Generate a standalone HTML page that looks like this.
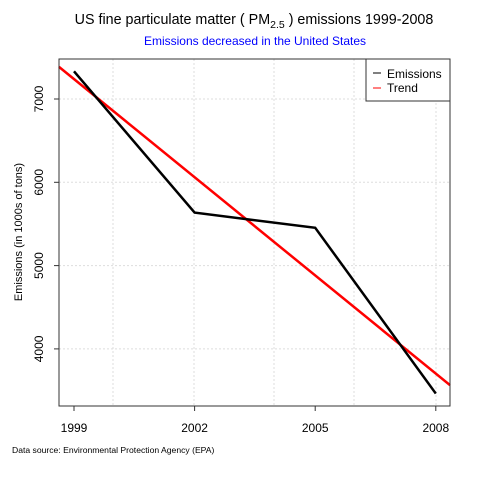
<!DOCTYPE html>
<html><head><meta charset="utf-8"><style>
body{margin:0;background:#fff;}
svg{display:block;font-family:"Liberation Sans",Arial,sans-serif;}
</style></head><body>
<svg id="c" width="480" height="480" viewBox="0 0 480 480">
<text x="254" y="24" font-size="14.3" text-anchor="middle">US fine particulate matter ( PM<tspan font-size="10.5" dy="4">2.5</tspan><tspan dy="-4"> ) emissions 1999-2008</tspan></text>
<text x="255" y="45" font-size="12" fill="#0000ff" text-anchor="middle">Emissions decreased in the United States</text>
<g id="grid"></g>
<g id="marks"></g>
<rect x="59" y="59" width="391" height="347" fill="none" stroke="#333" stroke-width="1"/>
<g id="axes"></g>
<text transform="translate(22,232) rotate(-90)" font-size="11" text-anchor="middle">Emissions (in 1000s of tons)</text>
<text x="12" y="453" font-size="8.6">Data source: Environmental Protection Agency (EPA)</text>
<g>
<rect x="366" y="59" width="84" height="42" fill="#fff" stroke="#333"/>
<line x1="373" y1="73" x2="381" y2="73" stroke="#000"/>
<text x="387" y="78" font-size="12">Emissions</text>
<line x1="373" y1="88" x2="381" y2="88" stroke="#f00"/>
<text x="387" y="92" font-size="12">Trend</text>
</g>
</svg>
<script>
const years=[1999,2002,2005,2008];
const emissions=[7332,5636,5454,3464];
const yTicks=[4000,5000,6000,7000];
const xTicks=[1999,2002,2005,2008];
const NS="http://www.w3.org/2000/svg";
const X=v=>74+(v-1999)*40.2;
const Y=v=>99-(v-7000)*0.0833;
const xv=[113,194,274,354,436];
function mk(p,t,a){const e=document.createElementNS(NS,t);for(const k in a)e.setAttribute(k,a[k]);document.getElementById(p).appendChild(e);return e;}
xv.forEach(x=>{const l=mk('grid','line',{x1:x,x2:x,y1:59,y2:406,stroke:'#ddd','stroke-dasharray':'2,2'});

});
yTicks.forEach(v=>{const l=mk('grid','line',{x1:59,x2:450,y1:Y(v),y2:Y(v),stroke:'#ddd','stroke-dasharray':'2,2'});


const t=mk('axes','line',{x1:54,x2:59,y1:Y(v),y2:Y(v),stroke:'#333'});


const tx=mk('axes','text',{transform:`translate(43,${Y(v)}) rotate(-90)`,'font-size':12,'text-anchor':'middle'});tx.textContent=v;

});
xTicks.forEach(v=>{const t=mk('axes','line',{x1:X(v),x2:X(v),y1:406,y2:411,stroke:'#333'});


const tx=mk('axes','text',{x:X(v),y:432,'font-size':12,'text-anchor':'middle'});tx.textContent=v;

});
const n=years.length,mx=years.reduce((a,b)=>a+b)/n,my=emissions.reduce((a,b)=>a+b)/n;
let sxy=0,sxx=0;years.forEach((x,i)=>{sxy+=(x-mx)*(emissions[i]-my);sxx+=(x-mx)**2;});
const slope=sxy/sxx;
const x0=1999-15/40.2,x1=1999+376/40.2;
const tr=mk('marks','line',{x1:59,x2:450,y1:Y(my+slope*(x0-mx)),y2:Y(my+slope*(x1-mx)),stroke:'#f00','stroke-width':2.5});


const pl=mk('marks','polyline',{points:years.map((y,i)=>X(y)+','+Y(emissions[i])).join(' '),fill:'none',stroke:'#000','stroke-width':2.5});


</script>
</body></html>
